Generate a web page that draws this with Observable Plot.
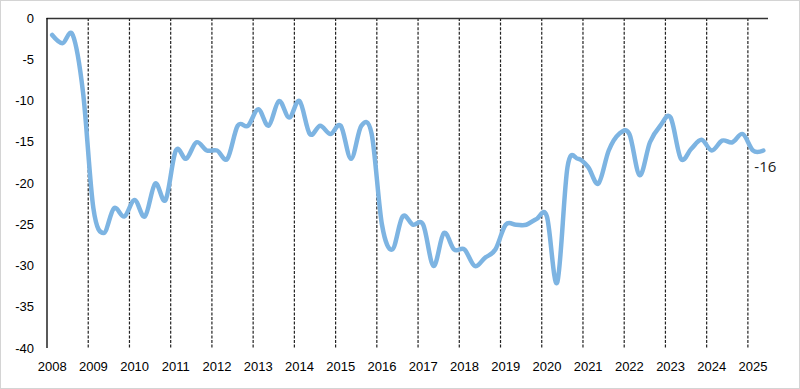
<!DOCTYPE html>
<html>
<head>
<meta charset="utf-8">
<script src="https://cdn.jsdelivr.net/npm/d3@7"></script>
<script src="https://cdn.jsdelivr.net/npm/@observablehq/plot@0.6"></script>
<style>
  html, body { margin: 0; padding: 0; background: #fff; }
  #wrap { position: relative; width: 800px; height: 389px; overflow: hidden; }
  #border { position: absolute; left: 0; top: 0; width: 800px; height: 389px; box-sizing: border-box; border: 1px solid #d4d4d4; pointer-events: none; }
</style>
</head>
<body>
<div id="wrap"><div id="border"></div></div>
<script>
// Year labels (one per year, shown under the first quarter)
const yearLabels = ["2008","2009","2010","2011","2012","2013","2014","2015","2016","2017","2018","2019","2020","2021","2022","2023","2024","2025"];
// Quarterly values, 2008 Q1 .. 2025 Q2
const values = [
  -2, -3, -2, -9,      // 2008
  -23, -26, -23, -24,  // 2009
  -22, -24, -20, -22,  // 2010
  -16, -17, -15, -16,  // 2011
  -16, -17, -13, -13,  // 2012
  -11, -13, -10, -12,  // 2013
  -10, -14, -13, -14,  // 2014
  -13, -17, -13, -14,  // 2015
  -25, -28, -24, -25,  // 2016
  -25, -30, -26, -28,  // 2017
  -28, -30, -29, -28,  // 2018
  -25, -25, -25, -24.3,// 2019
  -24, -32, -18, -17,  // 2020
  -18, -20, -16, -14,  // 2021
  -14, -19, -15, -13,  // 2022
  -12, -17, -15.8, -14.7, // 2023
  -16, -14.8, -15, -14,// 2024
  -16, -16             // 2025
];
const yTicks = [0, -5, -10, -15, -20, -25, -30, -35, -40];
const endLabel = "-16";

const nQuarters = values.length;            // 70
const data = values.map((v, i) => ({q: i + 0.5, v}));
const yearBounds = yearLabels.slice(1).map((_, k) => (k + 1) * 4);
const labelPos = yearLabels.map((_, k) => k * 4 + 0.5);
const last = data[data.length - 1];

const chart = Plot.plot({
  width: 800,
  height: 389,
  marginLeft: 46.5,
  marginRight: 32,
  marginTop: 18,
  marginBottom: 41,
  style: {fontFamily: "'Liberation Sans', Arial, sans-serif", fontSize: "13px", color: "#000", background: "transparent"},
  x: {domain: [0, nQuarters], label: null},
  y: {domain: [-40, 0], label: null},
  marks: [
    Plot.ruleX(yearBounds, {stroke: "#222", strokeWidth: 1.2, strokeDasharray: "3,1.6"}),
    Plot.ruleY([0], {stroke: "#333", strokeWidth: 1.3}),
    Plot.ruleX([0], {stroke: "#000", strokeWidth: 1.3}),
    Plot.axisY(yTicks, {tickSize: 0, tickPadding: 13, tickFormat: d => String(d), fill: "#000"}),
    Plot.axisX(labelPos, {tickSize: 0, tickPadding: 13, tickFormat: d => yearLabels[(d - 0.5) / 4], fill: "#000"}),
    Plot.line(data, {x: "q", y: "v", curve: "cardinal", stroke: "#7db4e2", strokeWidth: 4.5, strokeLinejoin: "round", strokeLinecap: "round"}),
    Plot.text([last], {x: "q", y: "v", text: () => endLabel, dx: 2, dy: 17, textAnchor: "middle", fontFamily: "'Open Sans', 'Noto Sans', sans-serif", fontSize: 15, fill: "#222"})
  ]
});
document.getElementById("wrap").prepend(chart);
</script>
</body>
</html>
